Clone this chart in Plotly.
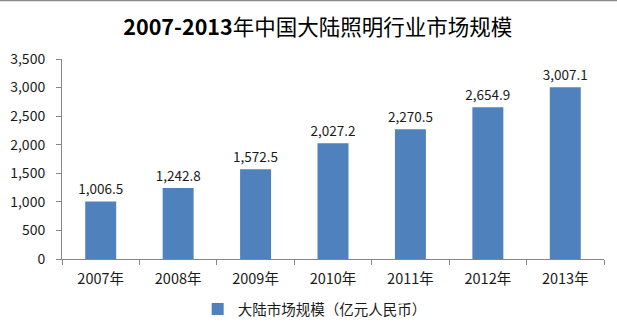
import plotly.graph_objects as go

# China mainland lighting industry market size, 2007-2013
years = ["2007年", "2008年", "2009年", "2010年", "2011年", "2012年", "2013年"]
market_size = [1006.5, 1242.8, 1572.5, 2027.2, 2270.5, 2654.9, 3007.1]
y_ticks = [0, 500, 1000, 1500, 2000, 2500, 3000, 3500]
y_tick_text = ["0", "500", "1,000", "1,500", "2,000", "2,500", "3,000", "3,500"]
series_name = "大陆市场规模（亿元人民币）"
title_years = "2007-2013"
title_rest = "年中国大陆照明行业市场规模"

FONT = "Noto Sans CJK SC, DejaVu Sans, sans-serif"
BAR_COLOR = "#4F81BD"
AXIS_COLOR = "#868686"
TEXT_COLOR = "#1a1a1a"

fig = go.Figure(
    go.Bar(
        x=years,
        y=market_size,
        name=series_name,
        marker=dict(color=BAR_COLOR, line=dict(width=0)),
        text=[f"{v:,.1f}" for v in market_size],
        textposition="outside",
        constraintext="none",
        textfont=dict(family=FONT, size=13.5, color=TEXT_COLOR),
        cliponaxis=False,
        showlegend=True,
    )
)

fig.update_layout(
    width=617,
    height=323,
    margin=dict(l=62, r=13, t=59, b=64, autoexpand=False),
    paper_bgcolor="white",
    plot_bgcolor="white",
    bargap=0.6,
    font=dict(family=FONT, size=13, color=TEXT_COLOR),
    title=dict(
        text=f"<b>{title_years}</b>{title_rest}",
        x=0.515,
        xanchor="center",
        xref="container",
        y=0.915,
        yanchor="middle",
        font=dict(family=FONT, size=21.5, color="#000000"),
    ),
    legend=dict(
        orientation="h",
        xref="container",
        yref="container",
        x=0.51,
        xanchor="center",
        y=0.043,
        yanchor="middle",
        font=dict(family=FONT, size=14.5, color=TEXT_COLOR),
        itemwidth=30,
        bgcolor="rgba(0,0,0,0)",
    ),
    showlegend=True,
)

fig.update_xaxes(
    showline=True,
    linecolor=AXIS_COLOR,
    linewidth=1,
    ticks="outside",
    tickson="boundaries",
    ticklen=5,
    tickcolor=AXIS_COLOR,
    showgrid=False,
    ticklabelstandoff=7,
    tickfont=dict(family=FONT, size=14.5, color=TEXT_COLOR),
)

fig.update_yaxes(
    range=[0, 3500],
    tickvals=y_ticks,
    ticktext=y_tick_text,
    showline=True,
    linecolor=AXIS_COLOR,
    linewidth=1,
    ticks="outside",
    ticklen=5,
    tickcolor=AXIS_COLOR,
    showgrid=False,
    zeroline=False,
    ticklabelstandoff=8,
    tickfont=dict(family=FONT, size=14, color=TEXT_COLOR),
)

# thin frame line along the top edge
fig.add_shape(
    type="line",
    xref="paper",
    yref="paper",
    x0=-0.2,
    x1=1.1,
    y0=1.2925,
    y1=1.2925,
    line=dict(color="#8c8c8c", width=1.5),
)

fig.write_html("out.html")
